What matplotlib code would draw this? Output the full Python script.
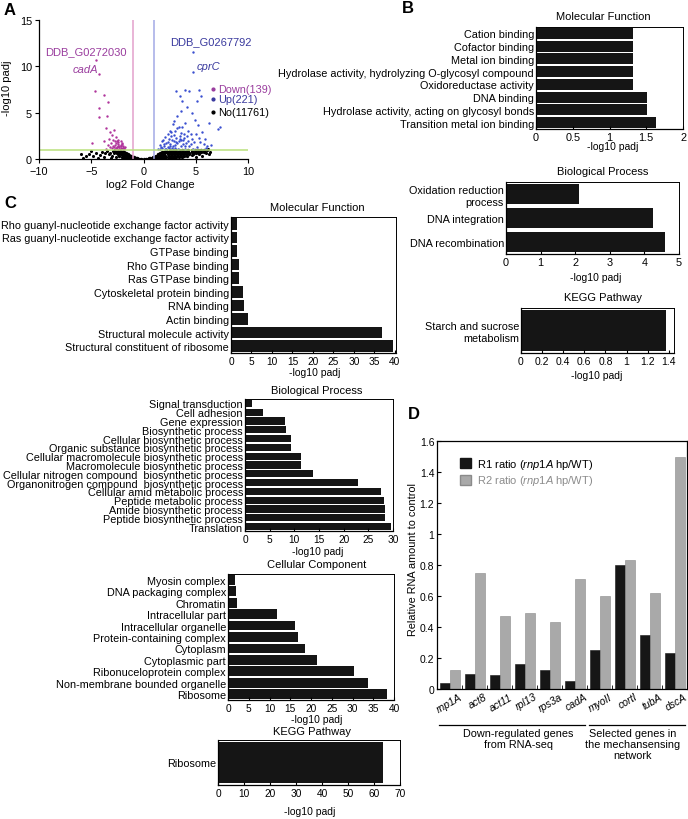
import numpy as np
import matplotlib.pyplot as plt
from matplotlib.lines import Line2D
from matplotlib.patches import Patch

plt.rcParams['font.family'] = ['Liberation Sans', 'DejaVu Sans']
plt.rcParams['font.size'] = 7.8
plt.rcParams['mathtext.fontset'] = 'custom'
plt.rcParams['mathtext.rm'] = 'Liberation Sans'
plt.rcParams['mathtext.it'] = 'Liberation Sans:italic'
plt.rcParams['axes.linewidth'] = 0.9

# ---------------- data ----------------
# A: volcano plot
down_x = [-4.5, -4.3, -4.6, -3.8, -3.4, -4.3, -3.5, -4.3, -4.9, -3.6, -3.2, -3.0, -2.8, -3.3, -2.9,
          -2.6, -2.5, -2.4, -2.2, -2.7, -3.1, -2.0, -2.3, -2.6, -1.9, -2.1, -2.8, -3.4, -3.8, -2.4,
          -2.2, -1.8, -2.5, -3.0, -3.6, -2.0, -2.35, -1.95, -2.15, -2.45, -2.65, -2.05, -2.3,
          -2.55, -2.75, -1.85, -2.1, -2.4, -2.9, -3.2, -2.2, -2.6]
down_y = [10.7, 9.2, 7.3, 6.9, 6.1, 5.5, 4.6, 4.5, 1.7, 3.3, 2.9, 2.6, 3.1, 2.2, 2.0,
          2.4, 1.9, 1.6, 1.4, 1.5, 1.7, 1.2, 1.1, 1.2, 1.05, 1.6, 1.3, 1.5, 1.9, 2.1,
          1.9, 1.3, 1.3, 1.2, 1.1, 1.4, 1.25, 1.15, 1.2, 1.45, 1.7, 1.05, 1.35, 1.1, 1.9,
          1.2, 1.75, 1.8, 1.45, 1.3, 1.55, 1.05]
up_x = [4.75, 4.75, 3.15, 3.95, 4.35, 5.3, 3.5, 5.5, 3.7, 5.1, 3.6, 4.2, 4.6, 6.3, 7.3, 7.1, 4.9,
        3.2, 2.8, 3.4, 4.0, 5.2, 2.5, 3.0, 3.6, 4.3, 5.0, 5.6, 2.1, 2.6, 3.1, 3.9, 4.6, 5.3,
        1.8, 2.3, 2.9, 3.4, 4.1, 4.8, 5.8, 1.6, 2.0, 2.5, 3.0, 3.6, 4.4, 5.1, 6.0, 1.4, 1.8,
        2.2, 2.7, 3.3, 4.0, 4.7, 3.8, 2.4, 6.1, 3.5, 1.7, 1.95, 2.15, 2.35, 2.55, 2.75, 2.95,
        3.25, 3.45, 3.75, 4.15, 4.5, 1.55, 1.9, 2.45, 2.85, 3.15, 3.55, 3.95, 4.25, 2.05,
        2.65, 3.05, 3.85, 2.35, 3.25, 4.55, 5.45, 5.9, 6.5, 2.9, 3.7]
up_y = [11.5, 9.4, 7.3, 7.4, 7.3, 7.4, 6.8, 6.8, 6.3, 6.3, 5.2, 5.6, 5.0, 3.9, 3.4, 3.2, 4.2,
        4.6, 3.8, 3.5, 3.9, 3.7, 3.0, 3.0, 2.8, 3.0, 2.7, 2.9, 2.4, 2.5, 2.3, 2.3, 2.2, 2.3,
        1.9, 1.8, 1.9, 1.9, 1.7, 1.8, 1.6, 1.5, 1.4, 1.4, 1.5, 1.4, 1.4, 1.3, 1.2, 1.1, 1.15,
        1.1, 1.15, 1.1, 1.1, 1.05, 2.0, 2.2, 1.4, 2.5, 1.25, 1.6, 1.75, 1.3, 1.65, 2.05, 2.6,
        1.7, 2.15, 1.6, 2.45, 1.65, 1.05, 2.1, 1.2, 1.35, 1.85, 2.05, 1.35, 1.9, 1.1, 2.9,
        1.2, 2.7, 2.7, 3.3, 2.7, 1.8, 2.2, 1.5, 4.1, 3.4]
# "No" points read row by row (each row shares one -log10 padj level)
no_rows_y = [0.97, 0.8, 0.65, 0.5, 0.35, 0.22, 0.1, 0.02]
no_rows_x = [[-2.7, -2.5, -2.3, -2.15, 2.2, 2.5, 2.8, 3.1, 3.4, 3.7, 4.0, 4.3, 4.6, 4.9, 5.2,
              5.5, 5.8, 6.1],
             [-2.6, -2.4, -2.2, -2.0, -1.85, 1.75, 1.95, 2.2, 2.5, 2.8, 3.1, 3.4, 3.7, 4.0,
              4.3, 4.6, 4.9, 5.2, 5.5, 5.8],
             [-2.5, -2.3, -2.1, -1.9, -1.7, 1.6, 1.8, 2.0, 2.3, 2.6, 2.9, 3.2, 3.5, 3.8, 4.1,
              4.4, 4.7, 5.0, 5.3],
             [-2.4, -2.2, -2.0, -1.8, -1.6, -1.45, 1.4, 1.55, 1.75, 2.0, 2.3, 2.6, 2.9, 3.2,
              3.5, 3.8, 4.1, 4.4, 4.7],
             [-2.3, -2.0, -1.7, -1.5, -1.3, -1.2, 1.15, 1.3, 1.5, 1.8, 2.1, 2.4, 2.7, 3.0,
              3.3, 3.6, 3.9, 4.2],
             [-2.1, -1.8, -1.5, -1.2, -1.0, -0.9, 0.9, 1.05, 1.3, 1.6, 1.9, 2.2, 2.5, 2.8,
              3.1, 3.4, 3.7],
             [-1.8, -1.5, -1.2, -0.9, -0.7, -0.6, 0.55, 0.65, 0.9, 1.2, 1.5, 1.8, 2.1, 2.4,
              2.7, 3.0],
             [-1.5, -1.2, -0.9, -0.6, -0.4, -0.2, 0.0, 0.2, 0.4, 0.6, 0.9, 1.2, 1.5, 1.8, 2.1]]
no_x = [-0.2, -0.4, -0.6, -0.8, -1.0, -1.2, -1.4, -1.6, -1.8, -2.0, -2.2, -2.4, -2.6,
        -2.8, -2.0, -2.6, -3.0, -3.2, -3.5, -2.9, -3.3, -3.7, -4.0, -4.2, -4.5, -4.8, -5.2,
        -5.5, -6.0, -5.8, -3.8, -4.4, -5.0, -3.1,
        0.2, 0.4, 0.6, 0.8, 1.0, 1.2, 1.4, 1.6, 1.8, 2.0, 2.3, 2.6, 3.0, 3.4, 3.8, 4.2, 4.6,
        5.0, 5.4, 5.8, 6.2, 4.6, 5.3, 6.0, 6.4, 5.0, 5.6, 6.3, 5.9]
no_y = [0.01, 0.04, 0.09, 0.15, 0.22, 0.32, 0.45, 0.58, 0.7, 0.82, 0.9, 0.95, 0.98,
        0.6, 0.1, 0.25, 0.35, 0.7, 0.9, 0.85, 0.5, 0.6, 0.8, 0.45, 0.65, 0.3, 0.55,
        0.3, 0.5, 0.15, 0.2, 0.1, 0.85, 0.15,
        0.01, 0.04, 0.09, 0.15, 0.22, 0.32, 0.45, 0.56, 0.66, 0.74, 0.8, 0.85, 0.88, 0.9, 0.93,
        0.95, 0.97, 0.99, 1.0, 1.02, 1.05, 0.45, 0.5, 0.6, 0.8, 0.25, 0.35, 0.55, 0.75]

# B: GO / KEGG (up-regulated)
b_mf_terms = ['Cation binding', 'Cofactor binding', 'Metal ion binding',
              'Hydrolase activity, hydrolyzing O-glycosyl compound', 'Oxidoreductase activity',
              'DNA binding', 'Hydrolase activity, acting on glycosyl bonds',
              'Transition metal ion binding']
b_mf_vals = [1.32, 1.32, 1.32, 1.32, 1.32, 1.51, 1.51, 1.63]
b_bp_terms = ['Oxidation reduction\nprocess', 'DNA integration', 'DNA recombination']
b_bp_vals = [2.1, 4.25, 4.59]
b_kegg_terms = ['Starch and sucrose\nmetabolism']
b_kegg_vals = [1.37]

# C: GO / KEGG (down-regulated)
c_mf_terms = ['Rho guanyl-nucleotide exchange factor activity',
              'Ras guanyl-nucleotide exchange factor activity', 'GTPase binding',
              'Rho GTPase binding', 'Ras GTPase binding', 'Cytoskeletal protein binding',
              'RNA binding', 'Actin binding', 'Structural molecule activity',
              'Structural constituent of ribosome']
c_mf_vals = [1.4, 1.4, 1.4, 1.9, 1.9, 2.9, 3.1, 4.2, 37.0, 39.5]
c_bp_terms = ['Signal transduction', 'Cell adhesion', 'Gene expression', 'Biosynthetic process',
              'Cellular biosynthetic process', 'Organic substance biosynthetic process',
              'Cellular macromolecule biosynthetic process', 'Macromolecule biosynthetic process',
              'Cellular nitrogen compound  biosynthetic process',
              'Organonitrogen compound  biosynthetic process', 'Cellular amid metabolic process',
              'Peptide metabolic process', 'Amide biosynthetic process',
              'Peptide biosynthetic process', 'Translation']
c_bp_vals = [1.5, 3.7, 8.2, 8.4, 9.4, 9.4, 11.4, 11.4, 13.8, 22.9, 27.6, 28.1, 28.3, 28.4, 29.6]
c_cc_terms = ['Myosin complex', 'DNA packaging complex', 'Chromatin', 'Intracellular part',
              'Intracellular organelle', 'Protein-containing complex', 'Cytoplasm',
              'Cytoplasmic part', 'Ribonuceloprotein complex', 'Non-membrane bounded organelle',
              'Ribosome']
c_cc_vals = [1.6, 1.9, 2.1, 11.7, 16.2, 16.8, 18.6, 21.4, 30.3, 33.8, 38.3]
c_kegg_terms = ['Ribosome']
c_kegg_vals = [63.3]

# D: qPCR
genes = ['rnp1A', 'act8', 'act11', 'rpl13', 'rps3a', 'cadA', 'myoII', 'cortI', 'tubA', 'dscA']
r1 = [0.04, 0.10, 0.09, 0.16, 0.12, 0.05, 0.25, 0.80, 0.35, 0.23]
r2 = [0.12, 0.75, 0.47, 0.49, 0.43, 0.71, 0.60, 0.83, 0.62, 1.50]

# ---------------- layout helpers (pixel coords) ----------------
W, H = 688, 820
fig = plt.figure(figsize=(W / 100, H / 100), dpi=100)


def box(l, t, r, b):
    return fig.add_axes([l / W, 1 - b / H, (r - l) / W, (b - t) / H])


def ftext(x, y, s, **kw):
    kw.setdefault('ha', 'center')
    kw.setdefault('va', 'center')
    return fig.text(x / W, 1 - y / H, s, **kw)


def go_bars(ax, terms, vals, xmax, ticks, height=0.86, tsize=7.3):
    y = np.arange(len(terms))
    ax.barh(y, vals, height=height, color='#151515')
    ax.set_ylim(len(terms) - 0.5, -0.5)
    ax.set_yticks(y)
    ax.set_yticklabels(terms)
    ax.set_xlim(0, xmax)
    ax.set_xticks(ticks)
    ax.set_xticklabels([f'{t:g}' for t in ticks])
    ax.tick_params(axis='y', length=0, pad=1.5, labelsize=7.8)
    ax.tick_params(axis='x', length=2, pad=2, direction='in', labelsize=tsize)
    for s in ['top', 'right']:
        ax.spines[s].set_linewidth(0.7)


# ---------------- panel A ----------------
axA = box(39, 21, 248, 160)
for yy, xs in zip(no_rows_y, no_rows_x):
    axA.scatter(xs, [yy] * len(xs), s=6, color='black', linewidths=0)
axA.scatter(no_x, no_y, s=5, color='black', linewidths=0)
axA.scatter(down_x, down_y, s=3, color='#b0359c', linewidths=0)
axA.scatter(up_x, up_y, s=3, color='#3a4fd0', linewidths=0)
axA.axvline(-1, color='#e3a0cc', lw=1.1)
axA.axvline(1, color='#a3a9e6', lw=1.1)
axA.axhline(1, color='#b9e07c', lw=1.1)
axA.set_xlim(-10, 10)
axA.set_ylim(0, 15)
axA.set_xticks([-10, -5, 0, 5, 10])
axA.set_yticks([0, 5, 10, 15])
axA.spines['top'].set_visible(False)
axA.spines['right'].set_visible(False)
axA.tick_params(length=3, pad=2, labelsize=7.8)
axA.text(-5.5, 11.65, 'DDB_G0272030', color='#9a3d9e', ha='center', va='center', fontsize=8)
axA.text(-5.6, 9.7, 'cadA', color='#9a3d9e', ha='center', va='center', fontsize=8, style='italic')
axA.text(6.4, 12.7, 'DDB_G0267792', color='#3a3a9e', ha='center', va='center', fontsize=8)
axA.text(6.2, 10.0, 'cprC', color='#3a3a9e', ha='center', va='center', fontsize=8, style='italic')
for yy, lab, col in [(7.6, 'Down(139)', '#9a3d9e'), (6.5, 'Up(221)', '#3a3a9e'),
                     (5.1, 'No(11761)', 'black')]:
    axA.scatter([6.65], [yy], s=4, color=col, clip_on=False)
    axA.text(7.1, yy, lab, color=col, ha='left', va='center', fontsize=7.8, clip_on=False)
ftext(150, 185, 'log2 Fold Change', fontsize=8)
ftext(7, 88, '-log10 padj', fontsize=8, rotation=90)

# ---------------- panel B ----------------
axB1 = box(536, 28, 683, 130)
go_bars(axB1, b_mf_terms, b_mf_vals, 2, [0, 0.5, 1, 1.5, 2], tsize=7.8)
ftext(603, 17, 'Molecular Function', fontsize=8)
ftext(613, 147, '-log10 padj', fontsize=7.5)

axB2 = box(506, 183, 679, 255)
go_bars(axB2, b_bp_terms, b_bp_vals, 5, [0, 1, 2, 3, 4, 5], height=0.8, tsize=7.8)
ftext(603, 172, 'Biological Process', fontsize=8)
ftext(596, 278, '-log10 padj', fontsize=7.5)

axB3 = box(521, 309, 674, 354)
go_bars(axB3, b_kegg_terms, b_kegg_vals, 1.45, [0, 0.2, 0.4, 0.6, 0.8, 1, 1.2, 1.4],
        height=0.9, tsize=7.5)
ftext(603, 298, 'KEGG Pathway', fontsize=8)
ftext(597, 376, '-log10 padj', fontsize=7.5)

# ---------------- panel C ----------------
axC1 = box(231, 218, 396, 354)
go_bars(axC1, c_mf_terms, c_mf_vals, 40.3, list(range(0, 41, 5)))
ftext(317, 208, 'Molecular Function', fontsize=8)
ftext(315, 373, '-log10 padj', fontsize=7.5)

axC2 = box(245, 400, 393, 532)
go_bars(axC2, c_bp_terms, c_bp_vals, 30, list(range(0, 31, 5)), height=0.8)
ftext(317, 391, 'Biological Process', fontsize=8)
ftext(318, 552, '-log10 padj', fontsize=7.5)

axC3 = box(228, 575, 394, 701)
go_bars(axC3, c_cc_terms, c_cc_vals, 40, list(range(0, 41, 5)))
ftext(317, 565, 'Cellular Component', fontsize=8)
ftext(317, 720, '-log10 padj', fontsize=7.5)

axC4 = box(218, 741, 400, 786)
go_bars(axC4, c_kegg_terms, c_kegg_vals, 70, list(range(0, 71, 10)), height=0.9)
ftext(312, 732, 'KEGG Pathway', fontsize=8)
ftext(310, 812, '-log10 padj', fontsize=7.5)

# ---------------- panel D ----------------
axD = box(437, 442, 687, 690)
x = np.arange(len(genes))
axD.bar(x - 0.2, r1, 0.4, color='#161616', edgecolor='#161616', linewidth=0.4)
axD.bar(x + 0.2, r2, 0.4, color='#a9a9a9', edgecolor='#8a8a8a', linewidth=0.4)
axD.set_xlim(-0.5, len(genes) - 0.5)
axD.set_ylim(0, 1.6)
axD.set_yticks([0, 0.2, 0.4, 0.6, 0.8, 1, 1.2, 1.4, 1.6])
axD.set_yticklabels(['0', '0.2', '0.4', '0.6', '0.8', '1', '1.2', '1.4', '1.6'])
axD.set_xticks(x + 0.5, minor=True)
axD.set_xticks([])
axD.tick_params(axis='y', length=3, direction='in', pad=2, labelsize=7.5)
axD.tick_params(axis='x', which='minor', length=3, direction='in')
for i, g in enumerate(genes):
    axD.text(i + 0.38, -0.015, g, rotation=30, ha='right', va='top', rotation_mode='anchor',
             style='italic', fontsize=7.5)
handles = [Patch(facecolor='#161616', edgecolor='#161616'),
           Patch(facecolor='#a9a9a9', edgecolor='#8a8a8a')]
leg = axD.legend(handles, [r'R1 ratio ($\it{rnp1A}$ hp/WT)', r'R2 ratio ($\it{rnp1A}$ hp/WT)'],
                 loc='upper left', bbox_to_anchor=(0.075, 0.955), frameon=False, fontsize=8,
                 handlelength=1.0, handleheight=1.0, handletextpad=0.5, labelspacing=0.25,
                 borderaxespad=0)
leg.get_texts()[1].set_color('#8c8c8c')
ftext(413, 560, 'Relative RNA amount to control', rotation=90, fontsize=7.8)

fig.add_artist(Line2D([439 / W, 585 / W], [1 - 726 / H, 1 - 726 / H], color='black', lw=0.9))
fig.add_artist(Line2D([589 / W, 685 / W], [1 - 726 / H, 1 - 726 / H], color='black', lw=0.9))
ftext(518, 729, 'Down-regulated genes\nfrom RNA-seq', va='top', fontsize=7.8, linespacing=1.15)
ftext(633, 729, 'Selected genes in\nthe mechansensing\nnetwork', va='top', fontsize=7.8,
      linespacing=1.15)

# panel letters
for px, py, s in [(4, 3, 'A'), (402, 1, 'B'), (4, 196, 'C'), (408, 407, 'D')]:
    ftext(px, py, s, ha='left', va='top', fontsize=12, fontweight='bold')

fig.savefig('out.png', dpi=100)
